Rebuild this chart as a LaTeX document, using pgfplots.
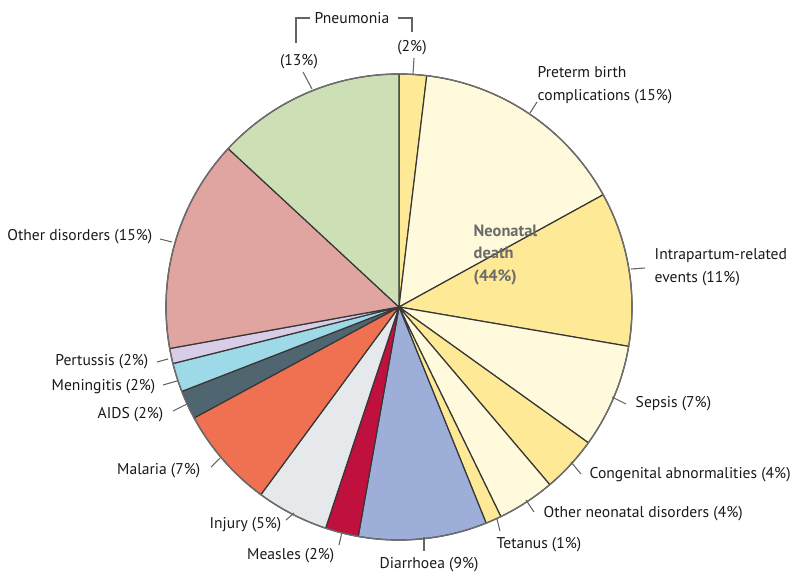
\documentclass[border=0pt]{standalone}
\usepackage{fontspec}
\setmainfont{PT Sans}
\usepackage{pgfplots}
\usepackage{pgfplotstable}
\pgfplotsset{compat=1.18}

\definecolor{neoY}{RGB}{254,233,150}
\definecolor{neoC}{RGB}{255,250,220}
\definecolor{diarr}{RGB}{157,174,216}
\definecolor{measl}{RGB}{192,16,61}
\definecolor{injur}{RGB}{230,233,236}
\definecolor{malar}{RGB}{240,112,82}
\definecolor{aids}{RGB}{79,102,112}
\definecolor{menin}{RGB}{158,217,232}
\definecolor{pertu}{RGB}{216,204,230}
\definecolor{other}{RGB}{224,165,160}
\definecolor{pneum}{RGB}{205,224,181}
\definecolor{slice}{RGB}{55,55,55}
\definecolor{rim}{RGB}{110,110,110}
\definecolor{lead}{RGB}{100,100,100}
\definecolor{txt}{RGB}{25,25,25}

% share of the pie (%), clockwise from 12 o'clock
\pgfplotstableread{
share col
1.9   neoY
15.1  neoC
10.7  neoY
7.2   neoC
3.9   neoY
4.0   neoC
1.1   neoY
8.9   diarr
2.3   measl
5.0   injur
7.0   malar
2.0   aids
2.0   menin
1.05  pertu
14.75 other
13.1  pneum
}\pietab

\tikzset{lab/.style={font=\fontsize{11.7}{17.3}\selectfont, text=txt}}

\begin{document}
\begin{tikzpicture}
\begin{axis}[
  x=0.75pt, y=0.75pt,
  xmin=0, xmax=800, ymin=0, ymax=578,
  y dir=reverse,
  hide axis, clip=false,
]
\coordinate (bl) at (axis cs:0,578);
\coordinate (tr) at (axis cs:800,0);

\def\ang{90}
\pgfplotsforeachungrouped \i in {0,...,15}{%
  \pgfplotstablegetelem{\i}{share}\of\pietab \let\s=\pgfplotsretval
  \pgfplotstablegetelem{\i}{col}\of\pietab \let\c=\pgfplotsretval
  \pgfmathsetmacro\nang{\ang-3.6*\s}%
  \edef\tmp{\noexpand\filldraw[fill=\c, draw=slice, line width=0.9pt, line join=round]
    (axis cs:399,307) -- ++(\ang:174.75pt) arc[start angle=\ang, end angle=\nang, radius=174.75pt] -- cycle;}%
  \tmp
  \let\ang=\nang
}
\draw[rim, line width=1pt] (axis cs:399,307) circle[radius=174.75pt];

% leaders
\begin{scope}[lead, line width=0.8pt]
\draw (axis cs:296,43) -- (axis cs:296,18) -- (axis cs:310,18);
\draw (axis cs:398,18) -- (axis cs:412,18) -- (axis cs:412,32);
\draw (axis cs:414,58) -- (axis cs:413,74);
\draw (axis cs:303,72) -- (axis cs:312,89);
\draw (axis cs:537,102) -- (axis cs:530,113);
\draw (axis cs:631,269) -- (axis cs:645,268);
\draw (axis cs:612,397) -- (axis cs:626,404);
\draw (axis cs:571,462) -- (axis cs:581,474);
\draw (axis cs:526,500) -- (axis cs:534,512);
\draw (axis cs:497,519) -- (axis cs:500,531);
\draw (axis cs:424,537) -- (axis cs:424,551);
\draw (axis cs:342,532) -- (axis cs:339,545);
\draw (axis cs:294,513) -- (axis cs:286,520);
\draw (axis cs:211,467) -- (axis cs:220,458);
\draw (axis cs:173,411) -- (axis cs:187,404);
\draw (axis cs:163,385) -- (axis cs:177,381);
\draw (axis cs:157,362) -- (axis cs:168,359);
\draw (axis cs:160,239) -- (axis cs:172,242);
\end{scope}

% labels
\node[lab] at (axis cs:352,18) {Pneumonia};
\node[lab] at (axis cs:412,48) {(2\%)};
\node[lab] at (axis cs:299,62) {(13\%)};
\node[lab, anchor=west, align=left] at (axis cs:533,85) {Preterm birth\\complications (15\%)};
\node[anchor=west, align=left, text=black!58, font=\fontsize{12.3}{16.8}\selectfont\bfseries] at (axis cs:469,255) {Neonatal\\death\\(44\%)};
\node[lab, anchor=west, align=left] at (axis cs:650,267) {Intrapartum-related\\events (11\%)};
\node[lab, anchor=west] at (axis cs:631,404) {Sepsis (7\%)};
\node[lab, anchor=west] at (axis cs:585,475) {Congenital abnormalities (4\%)};
\node[lab, anchor=west] at (axis cs:539,514) {Other neonatal disorders (4\%)};
\node[lab, anchor=west] at (axis cs:492,545) {Tetanus (1\%)};
\node[lab, anchor=west] at (axis cs:375,565) {Diarrhoea (9\%)};
\node[lab, anchor=east] at (axis cs:339,556) {Measles (2\%)};
\node[lab, anchor=east] at (axis cs:286,525) {Injury (5\%)};
\node[lab, anchor=east] at (axis cs:205,471) {Malaria (7\%)};
\node[lab, anchor=east] at (axis cs:168,415) {AIDS (2\%)};
\node[lab, anchor=east] at (axis cs:160,387) {Meningitis (2\%)};
\node[lab, anchor=east] at (axis cs:153,362) {Pertussis (2\%)};
\node[lab, anchor=east] at (axis cs:157,237) {Other disorders (15\%)};
\end{axis}
\pgfresetboundingbox
\path (bl) rectangle (tr);
\end{tikzpicture}
\end{document}
